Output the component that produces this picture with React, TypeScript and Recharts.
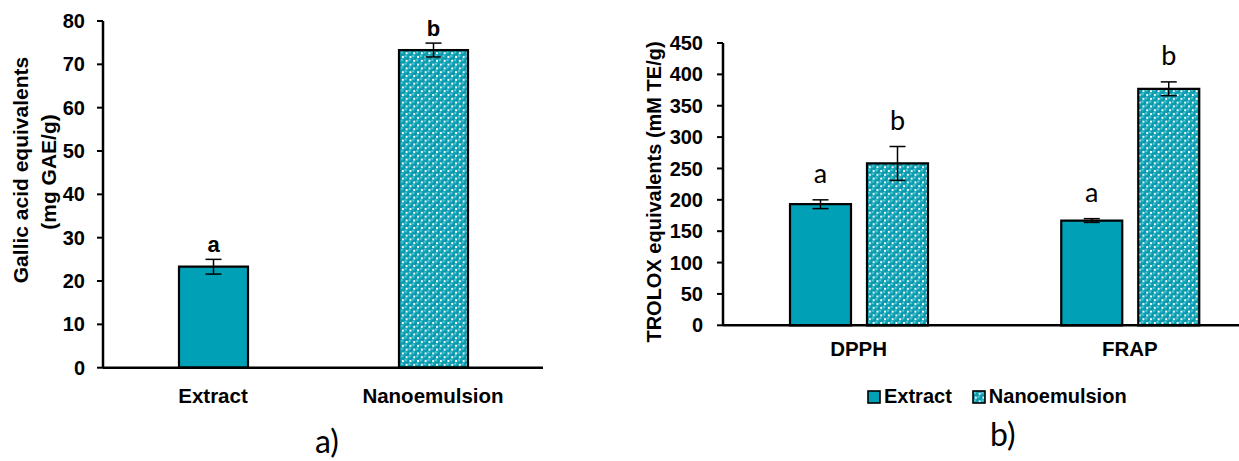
import { BarChart, Bar, XAxis, YAxis, ErrorBar, LabelList, Label, Cell, Legend } from 'recharts'

const LEFT_CATEGORIES = ['Extract', 'Nanoemulsion']
const LEFT_VALUES = [23.3, 73.3]
const LEFT_ERRORS = [1.7, 1.6]
const LEFT_LETTERS = ['a', 'b']
const LEFT_TICKS = [0, 10, 20, 30, 40, 50, 60, 70, 80]

const RIGHT_CATEGORIES = ['DPPH', 'FRAP']
const EXTRACT_VALUES = [193, 167]
const EXTRACT_ERRORS = [7, 3]
const EXTRACT_LETTERS = ['a', 'a']
const NANO_VALUES = [258, 377]
const NANO_ERRORS = [27, 11]
const NANO_LETTERS = ['b', 'b']
const RIGHT_TICKS = [0, 50, 100, 150, 200, 250, 300, 350, 400, 450]

const TEAL = '#00a1b6'
const ARIAL = '"Liberation Sans", Arial, sans-serif'
const CALIBRI = 'Lato, "Open Sans", sans-serif'

const leftData = LEFT_CATEGORIES.map((name, i) => ({
  name,
  value: LEFT_VALUES[i],
  err: LEFT_ERRORS[i],
  letter: LEFT_LETTERS[i],
}))

const rightData = RIGHT_CATEGORIES.map((name, i) => ({
  name,
  extract: EXTRACT_VALUES[i],
  extractErr: EXTRACT_ERRORS[i],
  extractLetter: EXTRACT_LETTERS[i],
  nano: NANO_VALUES[i],
  nanoErr: NANO_ERRORS[i],
  nanoLetter: NANO_LETTERS[i],
}))

function PatternDefs() {
  return (
    <svg width={0} height={0} style={{ position: 'absolute' }}>
      <defs>
        <radialGradient id="ball" cx="35%" cy="35%" r="65%">
          <stop offset="0%" stopColor="#8fe0ea" />
          <stop offset="40%" stopColor="#0aa6ba" />
          <stop offset="100%" stopColor="#00889b" />
        </radialGradient>
        <pattern id="spheres" width={7.6} height={7.6} patternUnits="userSpaceOnUse">
          <rect width={7.6} height={7.6} fill="#ffffff" />
          <circle cx={0} cy={0} r={2.9} fill="url(#ball)" />
          <circle cx={7.6} cy={0} r={2.9} fill="url(#ball)" />
          <circle cx={0} cy={7.6} r={2.9} fill="url(#ball)" />
          <circle cx={7.6} cy={7.6} r={2.9} fill="url(#ball)" />
          <circle cx={3.8} cy={3.8} r={2.9} fill="url(#ball)" />
        </pattern>
      </defs>
    </svg>
  )
}

function makeLetter(errs: number[], vals: number[], gap: number, font: string, size: number, weight: string) {
  // eslint-disable-next-line @typescript-eslint/no-explicit-any
  return (props: any) => {
    const { x, y, width, height, value, index } = props
    const errPx = (errs[index] * height) / vals[index]
    return (
      <text
        x={x + width / 2}
        y={y - errPx - gap}
        textAnchor="middle"
        fontFamily={font}
        fontSize={size}
        fontWeight={weight}
        fill="#000"
      >
        {value}
      </text>
    )
  }
}

function makeCatTick(dy: number) {
  // eslint-disable-next-line @typescript-eslint/no-explicit-any
  return (props: any) => (
    <text x={props.x} y={props.y + dy} textAnchor="middle" fontFamily={ARIAL} fontSize={20.5} fontWeight="bold" fill="#000">
      {props.payload.value}
    </text>
  )
}

const yTick = { fill: '#000', fontSize: 20, fontWeight: 'bold', fontFamily: ARIAL }

function LeftChart() {
  return (
    <div style={{ position: 'absolute', left: 0, top: 0 }}>
      <BarChart width={580} height={461} data={leftData} margin={{ top: 21, right: 37, bottom: 63.3, left: 43 }} barSize={69}>
        <XAxis
          dataKey="name"
          height={30}
          tickSize={0}
          tickMargin={0}
          tick={makeCatTick(35)}
          axisLine={{ stroke: '#000', strokeWidth: 2.5 }}
        />
        <YAxis
          width={60}
          domain={[0, 80]}
          ticks={LEFT_TICKS}
          interval={0}
          tickSize={6}
          tickMargin={12}
          tick={yTick}
          tickLine={{ stroke: '#000', strokeWidth: 2 }}
          axisLine={{ stroke: '#000', strokeWidth: 2.5 }}
        >
          <Label
            content={() => (
              <g fontFamily={ARIAL} fontSize={21} fontWeight="bold" fill="#000">
                <text transform="translate(20,170) rotate(-90)" textAnchor="middle" dominantBaseline="central">
                  Gallic acid equivalents
                </text>
                <text transform="translate(48,172) rotate(-90)" textAnchor="middle" dominantBaseline="central">
                  (mg GAE/g)
                </text>
              </g>
            )}
          />
        </YAxis>
        <Bar dataKey="value" stroke="#000" strokeWidth={2.2} isAnimationActive={false}>
          {leftData.map((d, i) => (
            <Cell key={d.name} fill={i === 0 ? TEAL : 'url(#spheres)'} />
          ))}
          <ErrorBar dataKey="err" width={8} stroke="#000" strokeWidth={1.5} />
          <LabelList dataKey="letter" content={makeLetter(LEFT_ERRORS, LEFT_VALUES, 7, ARIAL, 22, 'bold')} />
        </Bar>
      </BarChart>
    </div>
  )
}

// eslint-disable-next-line @typescript-eslint/no-explicit-any
function LegendContent(props: any) {
  const items = props.payload || []
  return (
    <div style={{ display: 'flex', alignItems: 'center', fontFamily: ARIAL, fontSize: 20, fontWeight: 'bold', color: '#000' }}>
      {/* eslint-disable-next-line @typescript-eslint/no-explicit-any */}
      {items.map((it: any, i: number) => (
        <div key={it.value} style={{ display: 'flex', alignItems: 'center', marginRight: i === 0 ? 20 : 0 }}>
          <svg width={14} height={14} style={{ marginRight: 3 }}>
            <rect x={1} y={1} width={12} height={12} fill={it.dataKey === 'extract' ? TEAL : 'url(#spheres)'} stroke="#000" strokeWidth={1.6} />
          </svg>
          <span>{it.value}</span>
        </div>
      ))}
    </div>
  )
}

function RightChart() {
  return (
    <div style={{ position: 'absolute', left: 600, top: 0, width: 639, height: 461, overflow: 'hidden' }}>
      <BarChart
        width={680}
        height={461}
        data={rightData}
        margin={{ top: 43, right: 14.5, bottom: 82.7, left: 43 }}
        barSize={61}
        barGap={16}
      >
        <XAxis
          dataKey="name"
          height={30}
          tickSize={0}
          tickMargin={0}
          tick={makeCatTick(31)}
          axisLine={{ stroke: '#000', strokeWidth: 2.5 }}
        />
        <YAxis
          width={80}
          domain={[0, 450]}
          ticks={RIGHT_TICKS}
          interval={0}
          tickSize={6}
          tickMargin={14}
          tick={yTick}
          tickLine={{ stroke: '#000', strokeWidth: 2 }}
          axisLine={{ stroke: '#000', strokeWidth: 2.5 }}
        >
          <Label
            content={() => (
              <text
                transform="translate(54,192) rotate(-90)"
                textAnchor="middle"
                dominantBaseline="central"
                fontFamily={ARIAL}
                fontSize={20}
                fontWeight="bold"
                fill="#000"
              >
                TROLOX equivalents (mM TE/g)
              </text>
            )}
          />
        </YAxis>
        <Legend
          content={<LegendContent />}
          wrapperStyle={{ position: 'absolute', left: 267, top: 385, width: 'auto' }}
        />
        <Bar dataKey="extract" name="Extract" fill={TEAL} stroke="#000" strokeWidth={2.2} isAnimationActive={false}>
          <ErrorBar dataKey="extractErr" width={8} stroke="#000" strokeWidth={1.5} />
          <LabelList dataKey="extractLetter" content={makeLetter(EXTRACT_ERRORS, EXTRACT_VALUES, 17, CALIBRI, 27, 'normal')} />
        </Bar>
        <Bar dataKey="nano" name="Nanoemulsion" fill="url(#spheres)" stroke="#000" strokeWidth={2.2} isAnimationActive={false}>
          <ErrorBar dataKey="nanoErr" width={8} stroke="#000" strokeWidth={1.5} />
          <LabelList dataKey="nanoLetter" content={makeLetter(NANO_ERRORS, NANO_VALUES, 17, CALIBRI, 27, 'normal')} />
        </Bar>
      </BarChart>
    </div>
  )
}

export default function App() {
  return (
    <div style={{ position: 'absolute', left: 0, top: 0, width: 1239, height: 461, overflow: 'hidden', background: '#fff' }}>
      <PatternDefs />
      <LeftChart />
      <RightChart />
      <div style={{ position: 'absolute', left: 315, top: 421, fontFamily: CALIBRI, fontSize: 32, color: '#000' }}>a)</div>
      <div style={{ position: 'absolute', left: 990, top: 414, fontFamily: CALIBRI, fontSize: 32, color: '#000' }}>b)</div>
    </div>
  )
}
